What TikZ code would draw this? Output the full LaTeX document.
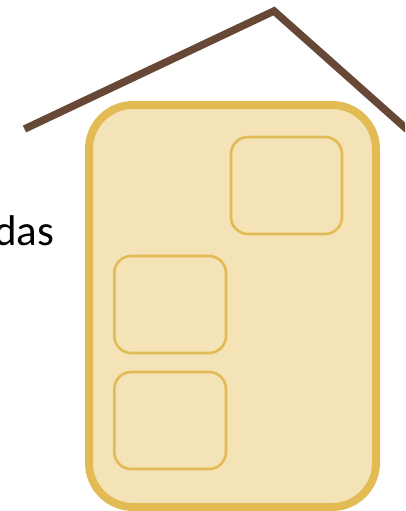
\documentclass[tikz,border=0pt]{standalone}
\usepackage{fontspec}
\setmainfont{Carlito}
\definecolor{gold}{HTML}{E2BB55}
\definecolor{cream}{HTML}{F3E3B7}
\definecolor{roof}{HTML}{674836}
\tikzset{
  room/.style={draw=gold,fill=cream,line width=2.6pt,rounded corners=17pt},
}
\begin{document}
\begin{tikzpicture}[x=1pt,y=-1pt]
\useasboundingbox (0,0) rectangle (405,511);
\clip (0,0) rectangle (405,511);
\fill[white] (0,0) rectangle (405,511);
\node[anchor=base east,inner sep=0pt,font=\fontsize{43}{46}\selectfont] (label) at (54.5,245) {das};
\draw[draw=gold,fill=cream,line width=8pt,rounded corners=44pt] (89,105) rectangle (376,507);
\draw[room] (231,137) rectangle (342,234);
\draw[room] (114.3,256) rectangle (226,353);
\draw[room] (114.3,372) rectangle (226,469);
\draw[roof,line width=7.5pt,miter limit=10] (24.5,129) -- (274,11) -- (410,132);
\end{tikzpicture}
\end{document}
